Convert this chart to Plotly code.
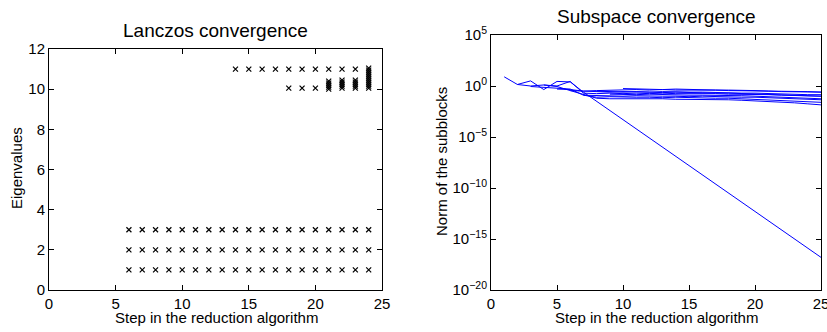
import plotly.graph_objects as go

# ---------------- Left: Lanczos convergence ----------------
lanczos_steps = [6, 7, 8, 9, 10, 11, 12, 13, 14, 15, 16, 17, 18, 19, 20, 21, 22, 23, 24]
lanczos_eigs = [
    [1, 2, 3], [1, 2, 3], [1, 2, 3], [1, 2, 3], [1, 2, 3], [1, 2, 3], [1, 2, 3], [1, 2, 3],
    [1, 2, 3, 11], [1, 2, 3, 11], [1, 2, 3, 11], [1, 2, 3, 11],
    [1, 2, 3, 10.05, 11], [1, 2, 3, 10.05, 11], [1, 2, 3, 10.05, 11],
    [1, 2, 3, 10.0, 10.1, 10.2, 10.3, 10.4, 11],
    [1, 2, 3, 10.05, 10.15, 10.25, 10.35, 10.45, 11],
    [1, 2, 3, 10.05, 10.15, 10.25, 10.35, 10.45, 11],
    [1, 2, 3, 10.05, 10.15, 10.25, 10.35, 10.45, 10.55, 10.65, 10.75, 10.85, 10.95, 11.05],
]
x_ticks_left = [0, 5, 10, 15, 20, 25]
y_ticks_left = [0, 2, 4, 6, 8, 10, 12]

# ---------------- Right: Subspace convergence (log10 of norms) ----------------
sub_starts = [1, 2, 3, 4, 5, 6, 7, 8, 9, 10]
sub_log_norms = [
    [0.9, 0.15, 0.5, -0.35, 0.45, 0.4, -0.6, -1.5, -2.4, -3.3, -4.2, -5.1, -6.0, -6.9, -7.8,
     -8.7, -9.6, -10.5, -11.4, -12.3, -13.2, -14.1, -15.0, -15.9, -16.8],
    [0.15, 0.0, 0.1, -0.05, -0.45, -0.5, -0.45, -0.4, -0.4, -0.35, -0.4, -0.35, -0.4, -0.4,
     -0.35, -0.4, -0.45, -0.45, -0.5, -0.5, -0.55, -0.55, -0.6, -0.6],
    [-0.05, -0.15, -0.25, -0.3, -0.9, -0.95, -0.95, -1.0, -0.95, -1.0, -1.0, -1.0, -1.05, -1.0,
     -1.05, -1.05, -1.1, -1.1, -1.15, -1.2, -1.25, -1.3, -1.35],
    [0.1, 0.0, 0.45, -0.7, -0.75, -0.7, -0.75, -0.7, -0.75, -0.7, -0.75, -0.75, -0.7, -0.75,
     -0.8, -0.8, -0.85, -0.85, -0.9, -0.95, -1.0, -1.0],
    [-0.3, -0.35, -0.5, -0.55, -0.6, -0.55, -0.6, -0.6, -0.55, -0.6, -0.6, -0.6, -0.65, -0.65,
     -0.7, -0.7, -0.75, -0.75, -0.8, -0.85, -0.85],
    [-0.45, -0.8, -1.2, -1.25, -1.25, -1.2, -1.25, -1.25, -1.3, -1.3, -1.3, -1.35, -1.35, -1.4,
     -1.45, -1.5, -1.55, -1.65, -1.75, -1.85],
    [-0.9, -1.1, -1.05, -1.1, -1.1, -1.1, -1.15, -1.1, -1.15, -1.15, -1.2, -1.2, -1.25, -1.3,
     -1.35, -1.4, -1.45, -1.5, -1.6],
    [-0.5, -0.55, -0.6, -0.55, -0.6, -0.65, -0.6, -0.65, -0.65, -0.7, -0.7, -0.75, -0.8, -0.8,
     -0.85, -0.9, -0.95, -1.0],
    [-0.8, -0.85, -0.85, -0.8, -0.85, -0.85, -0.9, -0.9, -0.9, -0.95, -0.95, -1.0, -1.05, -1.1,
     -1.15, -1.2, -1.25],
    [-0.25, -0.3, -0.3, -0.35, -0.3, -0.35, -0.35, -0.4, -0.4, -0.4, -0.45, -0.5, -0.5, -0.55,
     -0.55, -0.6],
]
x_ticks_right = [0, 5, 10, 15, 20, 25]
y_exps_right = [5, 0, -5, -10, -15, -20]

W, H = 827, 332
FONT = "Liberation Sans, Arial, Helvetica, sans-serif"

fig = go.Figure()

# left scatter
px, py = [], []
for s, ev in zip(lanczos_steps, lanczos_eigs):
    for v in ev:
        px.append(s)
        py.append(v)
fig.add_trace(go.Scatter(
    x=px, y=py, mode="markers", xaxis="x", yaxis="y",
    marker=dict(symbol="x-thin", size=5, color="black", line=dict(width=1.2, color="black")),
    showlegend=False, hoverinfo="skip"))

# right lines
for start, vals in zip(sub_starts, sub_log_norms):
    xs = list(range(start, start + len(vals)))
    ys = [10 ** v for v in vals]
    fig.add_trace(go.Scatter(
        x=xs, y=ys, mode="lines", xaxis="x2", yaxis="y2",
        line=dict(color="#0000ff", width=1), showlegend=False, hoverinfo="skip"))

def d(a, b, total):
    return [a / total, b / total]

axis_common = dict(
    showline=True, linecolor="black", linewidth=1, mirror="ticks",
    ticks="inside", ticklen=5, tickcolor="black", tickwidth=1,
    showgrid=False, zeroline=False, automargin=False, ticklabeloverflow="allow",
    tickfont=dict(family=FONT, size=15, color="black"),
)

fig.update_layout(
    template="none",
    width=W, height=H,
    margin=dict(l=0, r=0, t=0, b=0, pad=0),
    paper_bgcolor="white", plot_bgcolor="white",
    font=dict(family=FONT, color="black"),
    xaxis=dict(domain=d(49, 382, W), range=[0, 25], tickvals=x_ticks_left,
               anchor="y", **axis_common),
    yaxis=dict(domain=[(H - 290) / H, (H - 49) / H], range=[0, 12], tickvals=y_ticks_left,
               anchor="x", **axis_common),
    xaxis2=dict(domain=d(491, 821, W), range=[0, 25], tickvals=x_ticks_right,
                anchor="y2", **axis_common),
    yaxis2=dict(domain=[(H - 290) / H, (H - 35) / H], type="log", range=[-20, 5],
                tickvals=[10 ** e for e in y_exps_right],
                ticktext=["10<sup>%s</sup>" % (str(e).replace("-", "\u2212")) for e in y_exps_right],
                anchor="x2", **axis_common),
)

def ann(text, x, y, size, angle=0):
    fig.add_annotation(text=text, x=x / W, y=1 - y / H, xref="paper", yref="paper",
                       showarrow=False, textangle=angle, xanchor="center", yanchor="middle",
                       font=dict(family=FONT, size=size, color="black"))

ann("Lanczos convergence", 215.5, 30, 19)
ann("Subspace convergence", 656, 16, 19)
ann("Step in the reduction algorithm", 216, 317, 15)
ann("Step in the reduction algorithm", 656, 317, 15)
ann("Eigenvalues", 16, 168, 15, -90)
ann("Norm of the subblocks", 441, 162, 15, -90)

fig.write_html(
    "out.html",
    config={"displayModeBar": False, "staticPlot": True},
    post_script="document.body.style.margin='0';document.body.style.overflow='hidden';",
)
